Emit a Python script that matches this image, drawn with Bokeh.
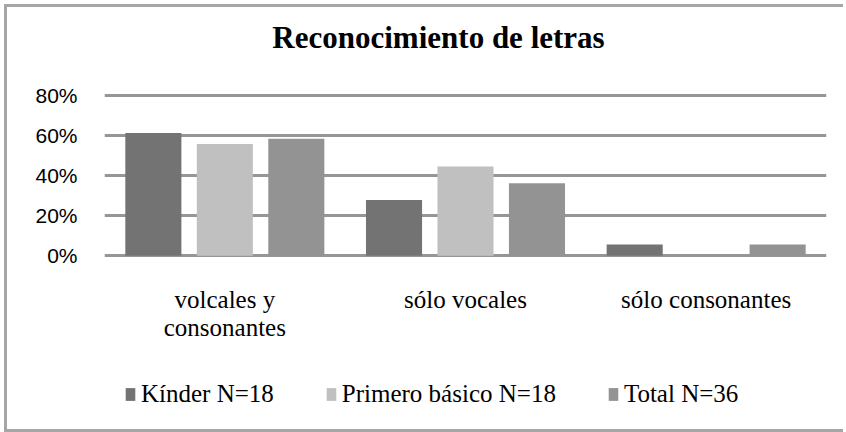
from bokeh.plotting import figure
from bokeh.models import (ColumnDataSource, FactorRange, Range1d, FixedTicker,
                          PrintfTickFormatter, Legend, LegendItem, Label)
from bokeh.transform import dodge
from bokeh.core.properties import value
from bokeh.embed import file_html
from bokeh.resources import INLINE

title_text = "Reconocimiento de letras"
categories = ["volcales y\nconsonantes", "sólo vocales", "sólo consonantes"]
series_names = ["Kínder N=18", "Primero básico N=18", "Total N=36"]
kinder = [61.1, 27.8, 5.6]
primero = [55.6, 44.4, 0.0]
total = [58.3, 36.1, 5.6]
y_ticks = [0, 20, 40, 60, 80]

colors = ["#737373", "#c0c0c0", "#939393"]

source = ColumnDataSource(data=dict(cat=categories, kinder=kinder, primero=primero, total=total))

p = figure(
    width=839, height=422,
    x_range=FactorRange(factors=categories, range_padding=0, factor_padding=0),
    y_range=Range1d(-83.0, 123.6),
    output_backend="svg", toolbar_location=None,
    min_border_left=97, min_border_right=20, min_border_top=0, min_border_bottom=7,
    outline_line_color=None,
    styles={"margin-left": "7px", "margin-top": "7px", "margin-bottom": "-14px",
            "vertical-align": "top",
            "box-shadow": "-3px -3px 0 0 #a6a6a6, -3px 3px 0 0 #a6a6a6"},
)

fields = ["kinder", "primero", "total"]
offsets = [-0.297, 0.0, 0.297]
renderers = []
for f, off, c in zip(fields, offsets, colors):
    r = p.vbar(x=dodge("cat", off, range=p.x_range), top=f, width=0.233, bottom=0,
               source=source, fill_color=c, line_color=None)
    renderers.append(r)

# category labels (drawn under the zero line, centred on each category)
p.text(x="cat", y=-14.8, text="cat", source=source,
       text_font=value("Liberation Serif"), text_font_size="25px",
       text_color="#000000", text_align="center", text_baseline="top",
       text_line_height=1.05)

# grid
p.xgrid.grid_line_color = None
p.ygrid.ticker = FixedTicker(ticks=y_ticks)
p.ygrid.grid_line_color = "#969696"
p.ygrid.grid_line_width = 3
p.ygrid.level = "underlay"

# y axis
p.yaxis.ticker = FixedTicker(ticks=y_ticks)
p.yaxis.formatter = PrintfTickFormatter(format="%d%%")
p.yaxis.axis_line_color = None
p.yaxis.major_tick_line_color = None
p.yaxis.major_tick_out = 0
p.yaxis.minor_tick_line_color = None
p.yaxis.minor_tick_out = 0
p.yaxis.major_label_text_font = "Liberation Sans"
p.yaxis.major_label_text_font_size = "21px"
p.yaxis.major_label_text_color = "#000000"
p.yaxis.major_label_standoff = 27

# x axis hidden (labels drawn as text above)
p.xaxis.visible = False

# title
title = Label(x=334, y=385, x_units="screen", y_units="screen", text=title_text,
              text_font="Liberation Serif", text_font_size="31px", text_font_style="bold",
              text_color="#000000", text_align="center", text_baseline="alphabetic")
p.add_layout(title)

# legend
items = [LegendItem(label=n, renderers=[r]) for n, r in zip(series_names, renderers)]
legend = Legend(items=items, orientation="horizontal", location=(20, 14),
                glyph_width=12, glyph_height=16, label_standoff=5, spacing=51,
                padding=0, margin=0, border_line_color=None, background_fill_alpha=0,
                label_text_font="Liberation Serif", label_text_font_size="25px",
                label_text_color="#000000")
p.add_layout(legend, "center")

open("out.html", "w").write(file_html(p, INLINE))
